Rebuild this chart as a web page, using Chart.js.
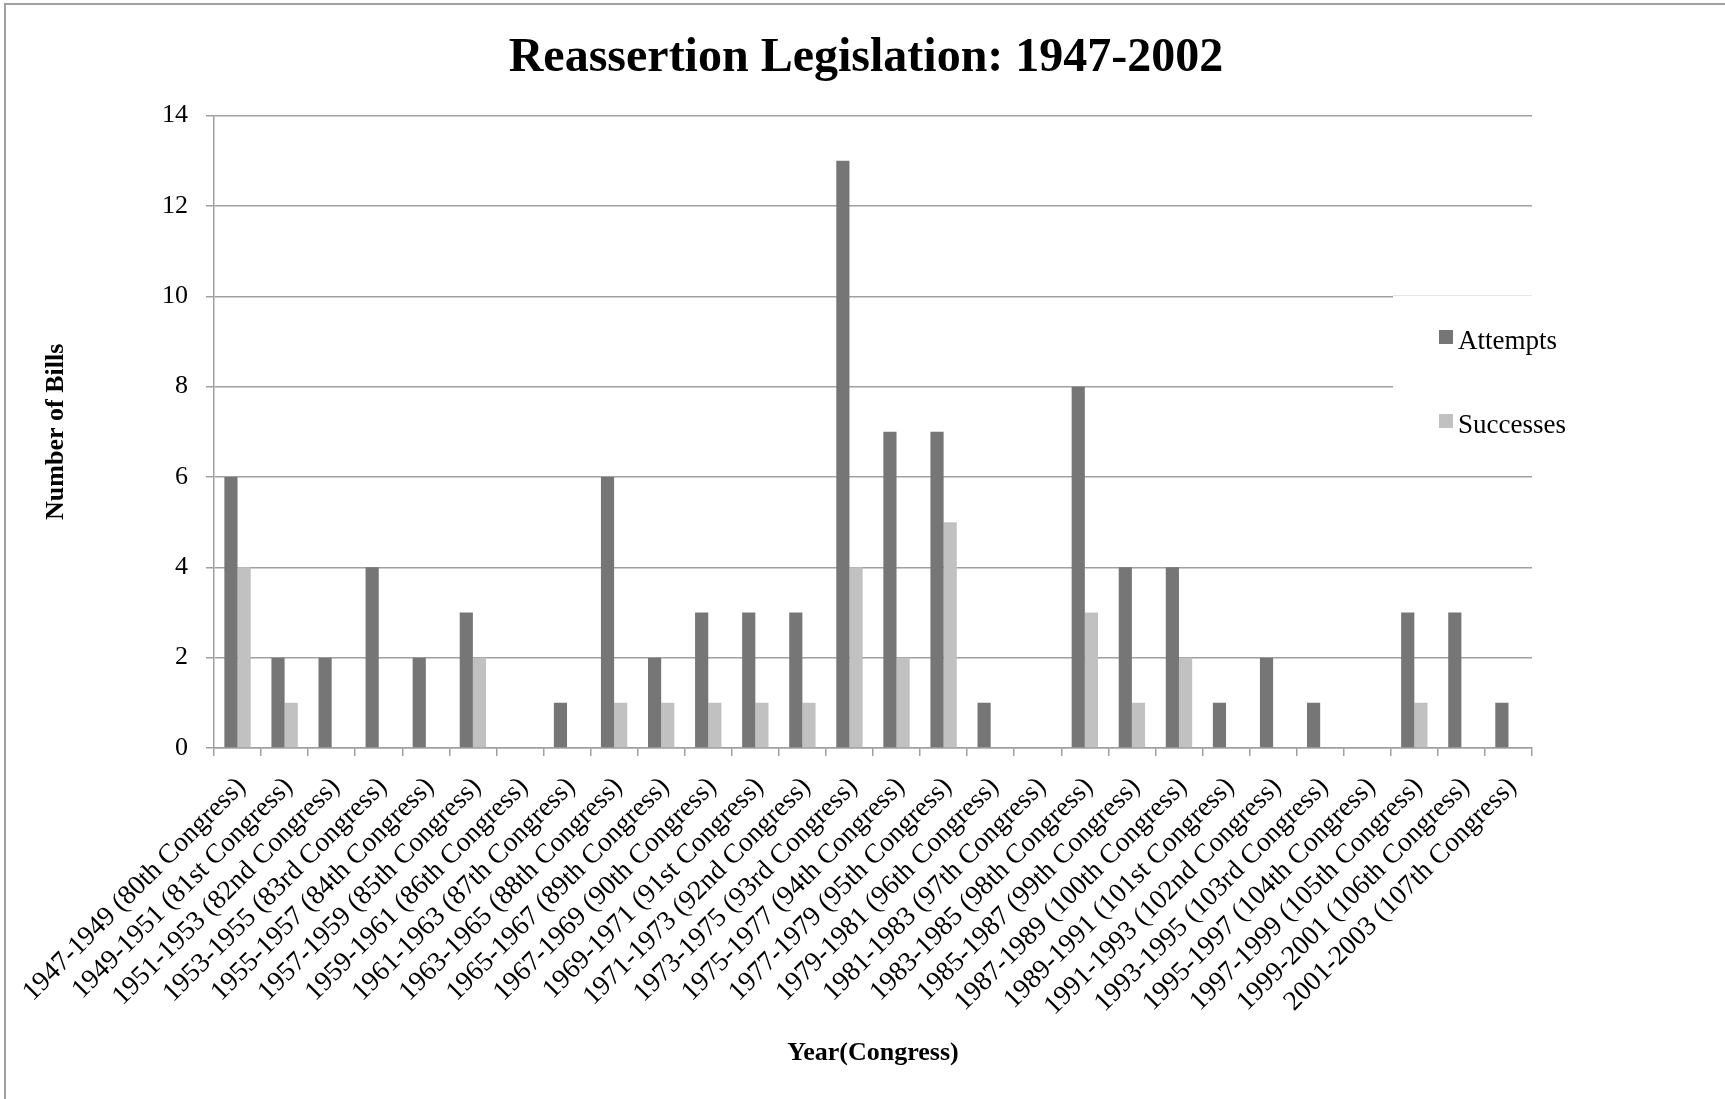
<!DOCTYPE html>
<html>
<head>
<meta charset="utf-8">
<script src="https://cdn.jsdelivr.net/npm/chart.js@4.4.1/dist/chart.umd.min.js"></script>
<style>
  html, body { margin: 0; padding: 0; background: #fff; }
  canvas { display: block; }
</style>
</head>
<body>
<canvas id="myChart" width="1725" height="1099"></canvas>
<script>
const congresses = [
  '1947-1949 (80th Congress)', '1949-1951 (81st Congress)', '1951-1953 (82nd Congress)',
  '1953-1955 (83rd Congress)', '1955-1957 (84th Congress)', '1957-1959 (85th Congress)',
  '1959-1961 (86th Congress)', '1961-1963 (87th Congress)', '1963-1965 (88th Congress)',
  '1965-1967 (89th Congress)', '1967-1969 (90th Congress)', '1969-1971 (91st Congress)',
  '1971-1973 (92nd Congress)', '1973-1975 (93rd Congress)', '1975-1977 (94th Congress)',
  '1977-1979 (95th Congress)', '1979-1981 (96th Congress)', '1981-1983 (97th Congress)',
  '1983-1985 (98th Congress)', '1985-1987 (99th Congress)', '1987-1989 (100th Congress)',
  '1989-1991 (101st Congress)', '1991-1993 (102nd Congress)', '1993-1995 (103rd Congress)',
  '1995-1997 (104th Congress)', '1997-1999 (105th Congress)', '1999-2001 (106th Congress)',
  '2001-2003 (107th Congress)'
];
const attempts  = [6, 2, 2, 4, 2, 3, 0, 1, 6, 2, 3, 3, 3, 13, 7, 7, 1, 0, 8, 4, 4, 1, 2, 1, 0, 3, 3, 1];
const successes = [4, 1, 0, 0, 0, 2, 0, 0, 1, 1, 1, 1, 1, 4, 2, 5, 0, 0, 3, 1, 2, 0, 0, 0, 0, 1, 0, 0];
const yMax = 14, yStep = 2;

const serif = '"Liberation Serif", "Times New Roman", serif';
const gridGrey = '#a0a0a0';

// frame round the picture + legend drawn on top of the plot
const extras = {
  id: 'extras',
  beforeDraw(chart) {
    const c = chart.ctx;
    c.save();
    c.fillStyle = '#fff';
    c.fillRect(0, 0, chart.width, chart.height);
    c.strokeStyle = '#a0a0a0';
    c.lineWidth = 2;
    c.beginPath();
    c.moveTo(5, chart.height);
    c.lineTo(5, 4);
    c.lineTo(chart.width, 4);
    c.stroke();
    c.restore();
  },
  afterDraw(chart) {
    const c = chart.ctx;
    const area = chart.chartArea;
    c.save();
    c.fillStyle = '#fff';
    c.fillRect(1393, 296, area.right - 1393 + 1, 170);
    c.strokeStyle = '#e6e6e6';
    c.lineWidth = 1;
    c.beginPath();
    c.moveTo(1393, 295.5);
    c.lineTo(area.right, 295.5);
    c.stroke();
    c.font = '27px ' + serif;
    c.textBaseline = 'alphabetic';
    chart.data.datasets.forEach((ds, i) => {
      const y = 330 + i * 84;
      c.fillStyle = ds.backgroundColor;
      c.fillRect(1439, y, 14, 14);
      c.fillStyle = '#000';
      c.fillText(ds.label, 1458, y + 19);
    });
    c.restore();
  }
};

new Chart(document.getElementById('myChart'), {
  type: 'bar',
  data: {
    labels: congresses,
    datasets: [{
      label: 'Attempts',
      data: attempts,
      backgroundColor: '#767676',
      categoryPercentage: 0.56,
      barPercentage: 1.0
    }, {
      label: 'Successes',
      data: successes,
      backgroundColor: '#c1c1c1',
      categoryPercentage: 0.56,
      barPercentage: 1.0
    }]
  },
  options: {
    responsive: false,
    animation: false,
    devicePixelRatio: 1,
    layout: { padding: { left: 7, right: 0, top: 0, bottom: 26 } },
    plugins: {
      legend: { display: false },
      tooltip: { enabled: false },
      title: {
        display: true,
        text: 'Reassertion Legislation: 1947-2002',
        color: '#000',
        font: { family: serif, size: 48, weight: 'bold' },
        padding: { top: 30, bottom: 28 }
      }
    },
    scales: {
      x: {
        grid: {
          offset: true,
          drawOnChartArea: false,
          drawTicks: true,
          tickLength: 8,
          color: gridGrey,
          lineWidth: 1.5
        },
        border: { color: gridGrey, width: 1.5 },
        ticks: {
          color: '#000',
          font: { family: serif, size: 27.5 },
          minRotation: 45,
          maxRotation: 45,
          autoSkip: false,
          padding: 15,
          labelOffset: 4
        },
        title: {
          display: true,
          text: 'Year(Congress)',
          color: '#000',
          font: { family: serif, size: 26, weight: 'bold' },
          padding: { top: 0, bottom: 4 }
        },
        afterFit(scale) { scale.height = 1099 - 748 - 26; }
      },
      y: {
        min: 0,
        max: yMax,
        grid: {
          color: gridGrey,
          lineWidth: 1.5,
          tickLength: 8
        },
        border: { color: gridGrey, width: 1.5 },
        ticks: {
          stepSize: yStep,
          color: '#000',
          font: { family: serif, size: 26 },
          padding: 18
        },
        title: {
          display: true,
          text: 'Number of Bills',
          color: '#000',
          font: { family: serif, size: 26, weight: 'bold' },
          padding: { top: 34, bottom: 0 }
        },
        afterFit(scale) { scale.width = 214 - 7; }
      },
      // empty right-hand spacer so the plot ends where the legend begins
      spacer: {
        type: 'linear',
        position: 'right',
        grid: { display: false },
        border: { display: false },
        ticks: { display: false },
        afterFit(scale) { scale.width = 1725 - 1532; }
      }
    }
  },
  plugins: [extras]
});
</script>
</body>
</html>
